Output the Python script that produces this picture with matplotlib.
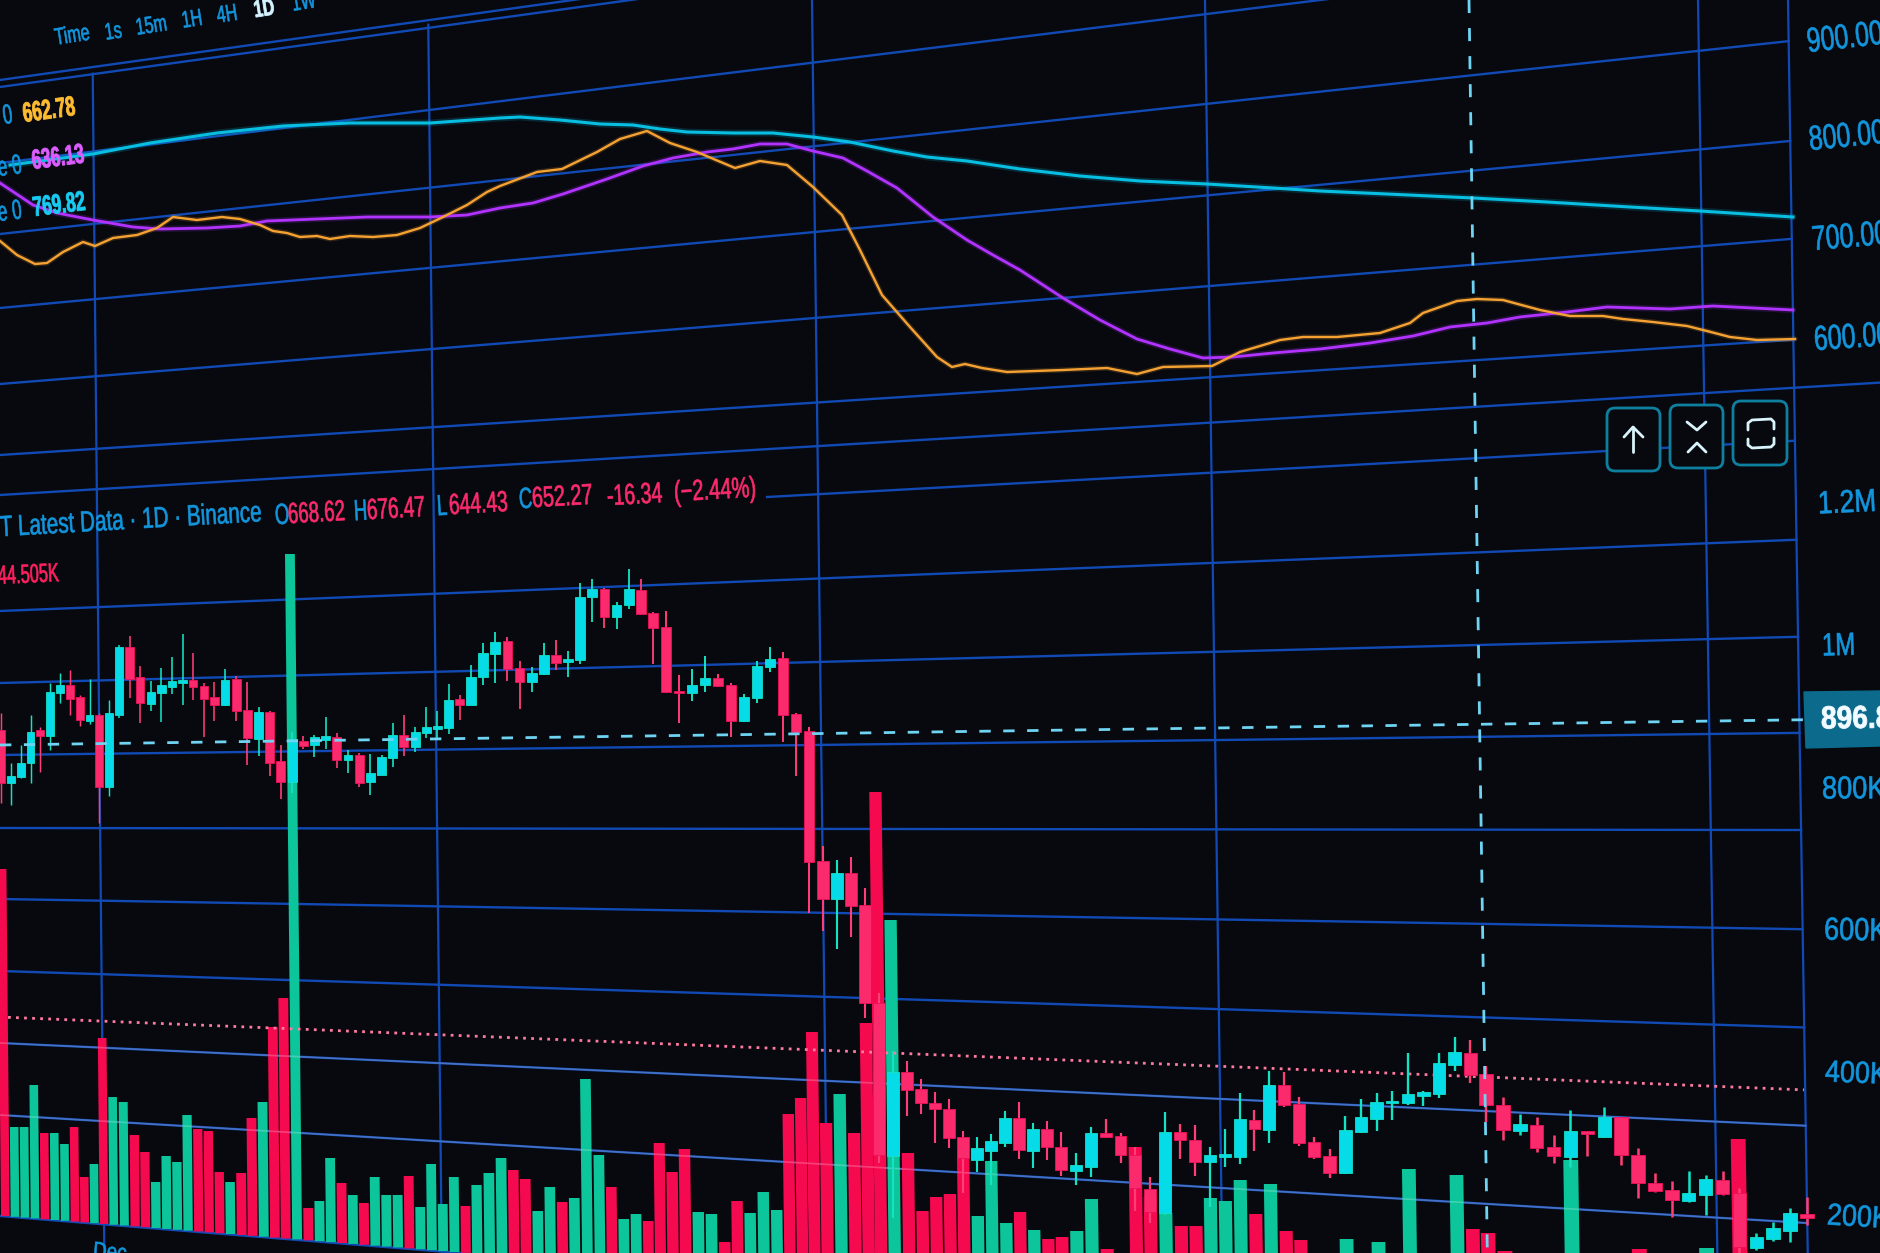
import numpy as np
import matplotlib
matplotlib.use('Agg')
import matplotlib.pyplot as plt
from matplotlib.collections import PolyCollection
from matplotlib.patches import FancyBboxPatch
from matplotlib.patheffects import AbstractPathEffect
from matplotlib.transforms import Affine2D

direction = list('rgggrggrrg' 'rggrrggggr' 'rrgrrgrrgr' 'ggrgrgggrg' 'gggrgggrrg'
                 'grgggrggrr' 'rrggrrgggr' 'rrrgrrrgrr' 'rrrgggrgrr' 'ggrrrrgrrg'
                 'ggrgrrrrgg' 'ggggggrrrg' 'rrgrgrrrrg' 'grrgggr')
wick_top = [713,763,745,715,727,683,673,670,695,679,713,700,645,636,666,681,668,657,634,653,683,682,669,676,682,
            707,711,745,732,736,735,717,733,750,753,754,755,723,715,727,707,711,684,695,665,643,632,637,661,667,
            643,640,651,583,579,588,602,569,579,612,611,675,669,656,674,683,694,661,647,652,713,727,846,860,857,
            888,993,1051,1061,1079,1092,1099,1131,1137,1134,1111,1102,1123,1121,1132,1153,1127,1119,1133,1147,
            1177,1112,1124,1125,1147,1129,1093,1110,1071,1072,1097,1137,1149,1116,1099,1093,1091,1053,1091,1053,
            1037,1040,1066,1097,1114,1117,1135,1110,1131,1107,1117,1148,1173,1181,1171,1175,1171,1188,1233,1222,
            1208,1197]
body_top = [730,776,763,732,730,692,685,685,697,715,715,713,647,647,677,692,685,681,680,680,686,697,680,679,710,
            712,712,761,739,741,737,736,737,755,755,773,757,735,735,732,727,726,700,699,677,653,642,641,668,673,
            655,655,659,597,589,589,605,589,590,613,627,691,685,678,678,685,697,666,659,658,714,731,861,873,873,
            905,1003,1072,1072,1089,1103,1109,1137,1148,1141,1118,1118,1129,1129,1147,1165,1133,1133,1136,1155,
            1189,1132,1132,1140,1155,1154,1119,1120,1085,1085,1104,1142,1156,1130,1117,1102,1101,1094,1092,1063,
            1052,1053,1074,1105,1124,1125,1147,1131,1131,1117,1117,1155,1183,1190,1193,1179,1180,1193,1237,1228,
            1213,1214]
body_bot = [783,783,777,763,736,736,693,699,720,721,787,787,715,679,703,704,693,687,683,687,699,705,705,711,738,
            739,763,782,782,746,745,740,760,760,783,782,775,758,747,747,733,729,728,705,705,677,654,669,682,682,
            674,663,662,660,597,617,617,605,614,628,692,693,693,685,686,721,721,698,667,715,732,862,899,899,906,
            1003,1155,1156,1090,1103,1109,1138,1158,1160,1151,1143,1150,1151,1147,1170,1171,1167,1137,1155,1188,
            1212,1213,1140,1162,1162,1157,1157,1129,1130,1105,1143,1157,1173,1173,1132,1119,1103,1103,1096,1094,
            1065,1075,1105,1130,1131,1148,1156,1157,1134,1137,1155,1183,1191,1200,1201,1195,1194,1247,1248,1239,
            1231,1218]
wick_bot = [803,805,778,783,772,750,703,715,726,724,823,796,718,698,723,711,722,694,705,700,737,721,706,721,765,
            756,776,799,793,749,757,749,768,773,787,795,775,767,756,752,738,739,734,720,705,685,683,681,709,692,
            675,670,677,664,622,628,629,609,615,664,693,723,701,692,687,737,722,703,672,742,776,913,931,949,937,
            1018,1163,1218,1116,1114,1143,1148,1193,1172,1185,1147,1159,1168,1160,1176,1185,1177,1138,1163,1211,
            1223,1215,1159,1176,1207,1167,1164,1151,1143,1107,1146,1159,1178,1174,1133,1131,1120,1105,1106,1098,
            1071,1083,1122,1140,1135,1152,1163,1167,1156,1137,1165,1198,1192,1217,1202,1215,1195,1258,1250,1241,
            1242,1225]
volume_top = [869,1127,1127,1085,1133,1133,1144,1127,1177,1164,1038,1097,1102,1135,1152,1182,1156,1162,1115,1129,
              1131,1172,1182,1173,1118,1102,1027,998,554,1208,1201,1158,1183,1195,1203,1177,1195,1195,1176,1207,
              1164,1204,1177,1206,1185,1173,1158,1170,1179,1211,1187,1202,1198,1079,1155,1187,1219,1214,1221,1143,
              1172,1149,1212,1214,1242,1201,1213,1192,1210,1114,1098,1032,1123,1094,1133,1023,792,920,1153,1211,
              1197,1194,1158,1216,1161,1223,1212,1230,1239,1237,1231,1199,1249,1262,1147,1197,1213,1226,1226,1198,
              1201,1180,1214,1184,1231,1240,1265,1265,1239,1265,1242,1265,1169,1265,1265,1175,1229,1233,1251,1265,
              1265,1265,1160,1265,1265,1265,1249,1265,1265,1265,1248,1265,1139,1265,1265,1265,1265]
# bar number -> where it sits across the photo, a few read points
bar_no = [1,13,23,45,60,72,90,107,118,137]
bar_at = [1,119,225,471,653,809,1061,1314,1486,1807]

ma_slow_x = [10,93,150,217,283,350,430,500,520,560,600,633,660,687,733,773,813,850,893,927,967,1020,1080,1140,1207,
             1273,1320,1387,1473,1547,1630,1700,1793]
ma_slow_y = [165,154,143,133,126,123,123,118,117,120,124,125,129,132,133,133,137,142,151,157,161,169,176,181,184,
             188,191,194,198,202,207,211,217]
ma_mid_x = [0,33,57,93,133,160,207,240,267,317,367,430,467,500,533,563,607,643,673,707,733,760,787,813,843,867,897,
            933,967,993,1020,1063,1100,1137,1170,1203,1233,1273,1320,1370,1413,1450,1487,1520,1567,1607,1670,1713,
            1753,1793]
ma_mid_y = [183,205,213,220,227,229,228,226,221,219,217,217,215,208,203,194,179,166,158,152,149,144,144,151,158,171,
            188,217,240,255,270,298,320,339,349,358,357,353,349,343,336,327,323,317,312,307,309,306,308,310]
ma_fast_x = [0,17,35,47,63,83,95,113,137,157,173,197,222,240,260,273,287,300,317,330,350,373,397,420,443,467,487,
             500,537,562,597,620,647,670,697,735,760,787,813,842,860,882,910,937,952,965,982,1007,1063,1107,1137,
             1163,1212,1240,1280,1303,1337,1380,1410,1423,1457,1477,1503,1540,1570,1603,1623,1653,1687,1707,1730,
             1757,1795]
ma_fast_y = [241,255,264,263,252,242,246,238,235,228,217,220,217,219,225,231,233,237,236,239,236,237,235,228,217,
             205,192,186,172,169,152,139,131,143,152,168,161,165,187,215,250,295,327,357,367,364,368,372,370,368,
             374,367,366,352,340,337,337,333,323,313,301,299,300,310,316,316,319,322,326,331,337,340,339]

# grid rows: height at the photo's left edge and at the chart's right border
row_left = [80,87,163,234,308,384,455,495,539,611,683,755,828,899,971,1043,1115,1216]
row_right = [-170,-160,-58,41,141,239,340,388,441,540,637,733,830,929,1027,1125,1222,1360]
grid_cols = [92,428,812,1205,1698,1788]
price_labels = ['900.00','800.00','700.00','600.00','1.2M','1M','800K','600K','400K','200K']
price_label_x = [1807,1809,1812,1814,1818,1822,1822,1824,1825,1827]
price_label_y = [40,138,238,338,503,645,788,929,1071,1214]
price_label_size = [25,25,25,25,23,23,23,23,22,22]
price_label_sx = [0.72,0.72,0.72,0.72,0.82,0.75,0.85,0.85,0.88,0.88]
tabs = ['Time','1s','15m','1H','4H','1D','1W']
tab_x = [55,105,136,182,217,254,292]
tab_y = [37,32,27,20,15,9,3]

BG = '#07090f'
GRID = '#114ab4'
BLUE = '#1295dc'
RED = '#fb2a6c'
RED_BAR = '#f50a50'
CYAN = '#06dbe8'
GREEN_BAR = '#0cc59a'
GREEN_WICK = '#14e2c4'

# the photo is taken at an angle: rows fan out from a point far off to the left
VP_Y, K = 815, 0.0002
RIGHT_X = 1790
def row_y(level, x):
    return VP_Y + (level - VP_Y) * (1 + K * x)
def lean(x):
    return 0.0095 + 3.5e-6 * x
def col_x(x0, y):
    return x0 + y * lean(x0)
def slope_deg(x, y):
    level = VP_Y + (y - VP_Y) / (1 + K * x)
    return np.degrees(np.arctan(K * (VP_Y - level)))

class Squeeze(AbstractPathEffect):
    # the angle makes the letters narrow, no narrow font here so squash the glyph path
    def __init__(self, sx, stroke=0.45):
        super().__init__()
        self.sx = sx
        self.stroke = stroke
    def draw_path(self, renderer, gc, tpath, affine, rgbFace=None):
        gc0 = renderer.new_gc()
        gc0.copy_properties(gc)
        gc0.set_linewidth(self.stroke)
        gc0.set_foreground(rgbFace)
        renderer.draw_path(gc0, tpath, Affine2D().scale(self.sx, 1) + affine, rgbFace)
        gc0.restore()

def label(ax, x, y, s, color=BLUE, size=16, sx=1.0, weight='normal', z=8):
    t = ax.text(x, y + size * 0.11, s, color=color, fontsize=size, fontweight=weight, ha='left', va='center',
                rotation=slope_deg(x, y), rotation_mode='anchor', zorder=z, family='Liberation Sans')
    t.set_path_effects([Squeeze(sx, 0.6 if weight == 'bold' else 0.45)])
    return t

def row(ax, left, right, x0=0, x1=None, **kw):
    if x1 is None:
        x1 = col_x(1788, left + (right - left) * 1800 / RIGHT_X)
    xs = np.array([x0, x1])
    ax.plot(xs, left + (right - left) * xs / RIGHT_X, **kw)

if __name__ == '__main__':
    fig = plt.figure(figsize=(18.8, 12.53), dpi=100, facecolor=BG)
    ax = fig.add_axes([0, 0, 1, 1], facecolor=BG)
    ax.set_xlim(0, 1880)
    ax.set_ylim(1253, 0)
    ax.axis('off')

    # grid
    for l, r in zip(row_left, row_right):
        kw = {}
        if l == 495:
            kw['x1'] = 1880     # panel divider runs on under the price scale
        if l == 539:
            kw['x0'] = 767      # hidden behind the legend text
        row(ax, l, r, color=GRID, lw=1.7, zorder=1, **kw)
    for c in grid_cols:
        y_top = max(row_y(87, c), 0)
        ax.plot([col_x(c, y_top), col_x(c, 1253)], [y_top, 1253], color=GRID, lw=1.6, zorder=1)

    idx = np.arange(1, len(wick_top) + 1)
    xs = np.interp(idx, bar_no, bar_at)
    step = np.gradient(xs)
    up = np.array([d == 'g' for d in direction])
    wt, bt, bb, wb = map(np.array, (wick_top, body_top, body_bot, wick_bot))
    mid = (bt + bb) / 2

    # volume bars, they lean with the screen
    verts, cols = [], []
    for i in range(len(xs)):
        base = row_y(1216, xs[i])
        top = volume_top[i]
        if top >= base:
            continue
        w = step[i] * 0.44
        x_t = xs[i] + (top - mid[i]) * lean(xs[i])
        x_b = xs[i] + (base - mid[i]) * lean(xs[i])
        verts.append([(x_t - w, top), (x_t + w, top), (x_b + w, base), (x_b - w, base)])
        cols.append(GREEN_BAR if up[i] else RED_BAR)
    ax.add_collection(PolyCollection(verts, facecolors=cols, edgecolors='none', zorder=2))

    # grid shows through the bars as a pale line
    for l, r in zip(row_left, row_right):
        if l in (1043, 1115):
            row(ax, l, r, color='#ffffff', lw=1.2, alpha=0.22, zorder=3)

    # volume average, dotted
    dot_x = np.array([8, 1804])
    ax.plot(dot_x, row_y(1017, dot_x), color='#ff7a9e', lw=2.0, ls=(0, (1, 1.9)), zorder=4)

    # candles
    wick_c = [GREEN_WICK if u else '#ff3d76' for u in up]
    ax.vlines(xs, wt, wb, colors=wick_c, linewidths=step * 0.15 * 0.72, zorder=5)
    ax.bar(xs, bb - bt, width=step * 0.8, bottom=bt, color=[CYAN if u else RED for u in up],
           edgecolor=[GREEN_WICK if u else '#f0105a' for u in up], linewidth=0.6, zorder=6)

    # crosshair
    cross = '#6fd3f2'
    ax.plot([col_x(1469, 0), col_x(1469, 1253)], [0, 1253], color=cross, lw=2.0, ls=(0, (4.7, 5.4)), zorder=7)
    cx = np.array([0, 1803])
    ax.plot(cx, row_y(745, cx), color=cross, lw=2.0, ls=(0, (4.1, 4.5)), zorder=7)

    # moving averages, soft glow under each
    for mx, my, c, lw in [(ma_slow_x, ma_slow_y, '#08bfe2', 2.2), (ma_mid_x, ma_mid_y, '#b233ff', 2.0),
                          (ma_fast_x, ma_fast_y, '#f6a233', 1.7)]:
        ax.plot(mx, my, color=c, lw=lw * 2.2, alpha=0.18, zorder=5, solid_capstyle='round')
        ax.plot(mx, my, color=c, lw=lw, zorder=6, solid_joinstyle='round')

    # text
    for s, x, y in zip(tabs, tab_x, tab_y):
        white = s == '1D'
        label(ax, x, y, s, color='#d4f2ff' if white else BLUE, size=17, sx=0.68, weight='bold' if white else 'normal')
    label(ax, 3, 115, '0', size=20, sx=0.62)
    label(ax, 23, 113, '662.78', color='#ffbb30', size=20, sx=0.62, weight='bold')
    label(ax, -2, 167, 'e 0', size=20, sx=0.62)
    label(ax, 32, 160, '636.13', color='#dc5cff', size=20, sx=0.62, weight='bold')
    label(ax, -2, 212, 'e 0', size=20, sx=0.62)
    label(ax, 33, 207, '769.82', color='#18cbf2', size=20, sx=0.62, weight='bold')

    label(ax, 0, 526, 'T Latest Data \u00b7 1D \u00b7 Binance', size=21, sx=0.71)
    for s, x, y, c, sq in [('O', 275, 514, BLUE, 0.63), ('668.62', 288, 513, RED, 0.64), ('H', 354, 510, BLUE, 0.63),
                           ('676.47', 367, 509, RED, 0.65), ('L', 437, 505, BLUE, 0.63), ('644.43', 449, 504, RED, 0.66),
                           ('C', 519, 498, BLUE, 0.63), ('652.27', 532, 497, RED, 0.68), ('-16.34', 607, 495, RED, 0.67),
                           ('(\u22122.44%)', 674, 491, RED, 0.69)]:
        label(ax, x, y, s, color=c, size=21, sx=sq)
    label(ax, -2, 575, '44.505K', color='#ff2060', size=19, sx=0.62)
    label(ax, 93, 1250, 'Dec', size=17, sx=0.8)

    for s, x, y, fs, sq in zip(price_labels, price_label_x, price_label_y, price_label_size, price_label_sx):
        label(ax, x, y, s, size=fs, sx=sq)

    # last value tag
    ax.fill([1804, 1880, 1880, 1806], [692, 691, 746, 748], color='#0c6a8c', zorder=7)
    label(ax, 1821, 718, '896.85K', color='#f2fbff', size=23, sx=0.88, weight='bold', z=9)

    # the three buttons
    boxes = [(1607, 408, 53, 63), (1670, 405, 53, 63), (1733, 401, 54, 64)]
    for x, y, w, h in boxes:
        ax.add_patch(FancyBboxPatch((x + 6, y + 6), w - 12, h - 12, boxstyle='round,pad=6,rounding_size=8',
                                    fc=BG, ec='#0e7f9e', lw=2.0, zorder=8))
    icon = dict(color='#d8f4fa', lw=2.0, zorder=9, solid_capstyle='round')
    ax.plot([1633, 1633], [452, 427], **icon)
    ax.plot([1624, 1633, 1643], [437, 427, 437], **icon)
    ax.plot([1687, 1697, 1706], [422, 430, 422], **icon)
    ax.plot([1688, 1697, 1706], [452, 443, 452], **icon)
    ax.plot([1748, 1748, 1752, 1771, 1774, 1774], [430, 423, 420, 419, 422, 429], **icon)
    ax.plot([1748, 1748, 1752, 1771, 1774, 1774], [439, 445, 448, 447, 444, 438], **icon)

    fig.savefig('out.png', dpi=100, facecolor=BG)
